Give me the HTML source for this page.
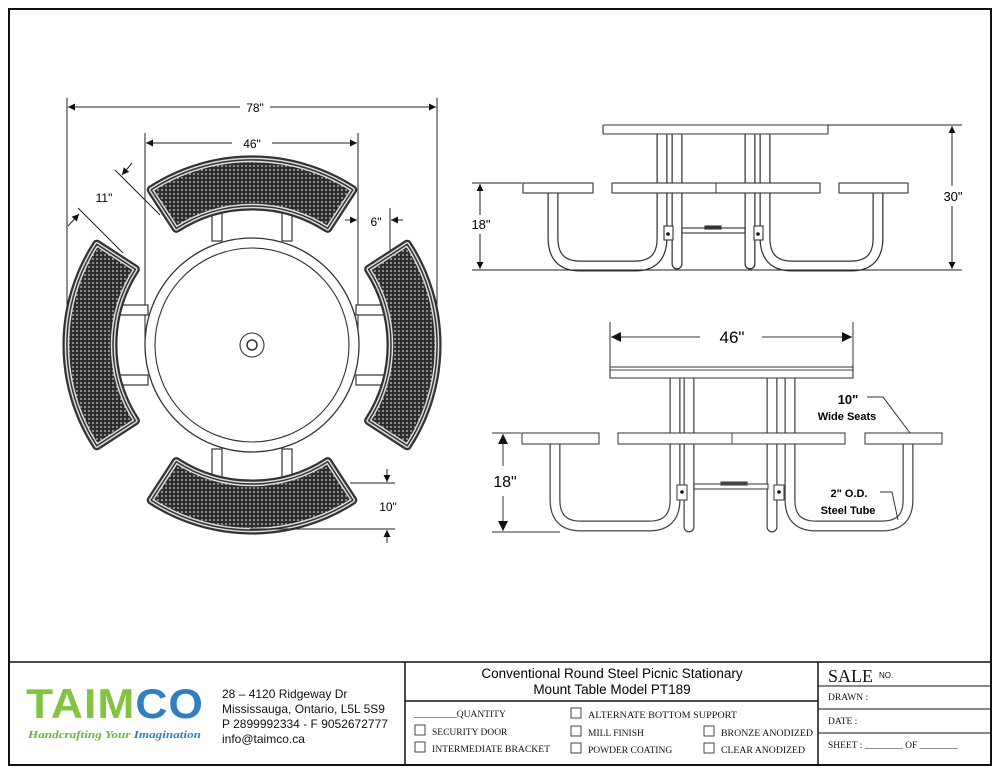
<!DOCTYPE html>
<html><head><meta charset="utf-8"><style>
html,body{margin:0;padding:0;background:#fff;}
svg{display:block;}
.s{font-family:"Liberation Sans",sans-serif;}
.m{font-family:"Liberation Serif",serif;font-size:9.5px;}
</style></head><body>
<svg width="1000" height="773" viewBox="0 0 1000 773" xmlns="http://www.w3.org/2000/svg">
<defs>
<pattern id="mesh" width="4" height="4" patternUnits="userSpaceOnUse">
<rect width="4" height="4" fill="#2e2e2e"/>
<circle cx="2" cy="2" r="1.0" fill="#aaa"/>
</pattern>
<marker id="ar" viewBox="0 0 10 10" refX="10" refY="5" markerWidth="9" markerHeight="7" orient="auto-start-reverse" markerUnits="userSpaceOnUse"><path d="M0,0 L10,5 L0,10 Z" fill="#111"/></marker>
<marker id="arB" viewBox="0 0 10 10" refX="10" refY="5" markerWidth="14" markerHeight="10" orient="auto-start-reverse" markerUnits="userSpaceOnUse"><path d="M0,0 L10,5 L0,10 Z" fill="#111"/></marker>
<g id="seat">
<path d="M151.2,189.8 A185,185 0 0 1 352.8,189.8 L327.7,228.4 A139,139 0 0 0 176.3,228.4 Z" fill="none" stroke="#333" stroke-width="9" stroke-linejoin="round"/>
<path d="M151.2,189.8 A185,185 0 0 1 352.8,189.8 L327.7,228.4 A139,139 0 0 0 176.3,228.4 Z" fill="url(#mesh)" stroke="#ddd" stroke-width="4.5" stroke-linejoin="round"/>
<path d="M151.2,189.8 A185,185 0 0 1 352.8,189.8 L327.7,228.4 A139,139 0 0 0 176.3,228.4 Z" fill="none" stroke="#333" stroke-width="1.5" stroke-linejoin="round"/>
</g>
<g id="sup">
<rect x="212" y="205" width="10" height="36" fill="#fff" stroke="#333" stroke-width="1.2"/>
<rect x="282" y="205" width="10" height="36" fill="#fff" stroke="#333" stroke-width="1.2"/>
</g>
</defs>

<rect x="9" y="9" width="982" height="756" fill="none" stroke="#111" stroke-width="2"/>

<g stroke="#222" stroke-width="1" fill="none">
<line x1="67" y1="98" x2="67" y2="345"/>
<line x1="437" y1="98" x2="437" y2="345"/>
<line x1="145" y1="133" x2="145" y2="340"/>
<line x1="358" y1="133" x2="358" y2="340"/>
<line x1="68" y1="107" x2="240" y2="107" marker-start="url(#ar)"/>
<line x1="270" y1="107" x2="436" y2="107" marker-end="url(#ar)"/>
<line x1="146" y1="143" x2="232" y2="143" marker-start="url(#ar)"/>
<line x1="272" y1="143" x2="357" y2="143" marker-end="url(#ar)"/>
</g>
<text x="255" y="112" class="s" font-size="12" text-anchor="middle">78"</text>
<text x="252" y="148" class="s" font-size="12" text-anchor="middle">46"</text>

<use href="#sup"/>
<use href="#sup" transform="rotate(90 252 345)"/>
<use href="#sup" transform="rotate(180 252 345)"/>
<use href="#sup" transform="rotate(270 252 345)"/>
<use href="#seat"/>
<use href="#seat" transform="rotate(90 252 345)"/>
<use href="#seat" transform="rotate(180 252 345)"/>
<use href="#seat" transform="rotate(270 252 345)"/>
<circle cx="252" cy="345" r="107" fill="#fff" stroke="#333" stroke-width="1.3"/>
<circle cx="252" cy="345" r="97" fill="none" stroke="#333" stroke-width="1.1"/>
<circle cx="252" cy="345" r="12" fill="none" stroke="#333" stroke-width="1.1"/>
<circle cx="252" cy="345" r="5" fill="none" stroke="#333" stroke-width="1.5"/>

<g stroke="#222" stroke-width="1" fill="none">
<line x1="115" y1="170" x2="160" y2="215"/>
<line x1="78" y1="208" x2="123" y2="253"/>
<line x1="132" y1="163" x2="122" y2="175" marker-end="url(#ar)"/>
<line x1="68" y1="226" x2="79" y2="214" marker-end="url(#ar)"/>
</g>
<text x="104" y="202" class="s" font-size="12" text-anchor="middle">11"</text>
<g stroke="#222" stroke-width="1" fill="none">
<line x1="390" y1="208" x2="390" y2="250"/>
<line x1="345" y1="220" x2="357" y2="220" marker-end="url(#ar)"/>
<line x1="403" y1="220" x2="391" y2="220" marker-end="url(#ar)"/>
</g>
<text x="376" y="226" class="s" font-size="12" text-anchor="middle">6"</text>
<g stroke="#222" stroke-width="1" fill="none">
<line x1="350" y1="483" x2="395" y2="483"/>
<line x1="250" y1="529" x2="395" y2="529"/>
<line x1="387" y1="469" x2="387" y2="482" marker-end="url(#ar)"/>
<line x1="387" y1="543" x2="387" y2="530" marker-end="url(#ar)"/>
</g>
<text x="388" y="511" class="s" font-size="12" text-anchor="middle">10"</text>

<g fill="none" stroke-linecap="round" stroke-linejoin="round">
<g stroke="#333" stroke-width="11">
<path d="M553,193 L553,238 Q553,266 580,266 L635,266 Q662,266 662,238 L662,134"/>
<path d="M765,134 L765,238 Q765,266 792,266 L851,266 Q878,266 878,238 L878,193"/>
<path d="M677,134 L677,264"/>
<path d="M750,134 L750,264"/>
</g>
<g stroke="#fff" stroke-width="8.5">
<path d="M553,193 L553,238 Q553,266 580,266 L635,266 Q662,266 662,238 L662,134"/>
<path d="M765,134 L765,238 Q765,266 792,266 L851,266 Q878,266 878,238 L878,193"/>
<path d="M677,134 L677,264"/>
<path d="M750,134 L750,264"/>
</g>
</g>
<g stroke="#333" stroke-width="1.1" fill="#fff">
<rect x="682" y="228" width="63" height="5"/>
<rect x="705" y="226" width="16" height="3" fill="#333"/>
<rect x="664" y="226" width="9" height="14"/>
<rect x="754" y="226" width="9" height="14"/>
<rect x="603" y="125" width="225" height="9" rx="1"/>
<rect x="523" y="183" width="70" height="10"/>
<rect x="612" y="183" width="208" height="10"/>
<rect x="839" y="183" width="69" height="10"/>
</g>
<line x1="716" y1="183" x2="716" y2="193" stroke="#333"/>
<circle cx="668" cy="234" r="1.8" fill="#111"/><circle cx="758" cy="234" r="1.8" fill="#111"/>
<g stroke="#222" stroke-width="1" fill="none">
<line x1="828" y1="125" x2="962" y2="125"/>
<line x1="472" y1="270" x2="962" y2="270"/>
<line x1="472" y1="183" x2="522" y2="183"/>
<line x1="952" y1="126" x2="952" y2="186" marker-start="url(#ar)"/>
<line x1="952" y1="206" x2="952" y2="269" marker-end="url(#ar)"/>
<line x1="480" y1="184" x2="480" y2="215" marker-start="url(#ar)"/>
<line x1="480" y1="234" x2="480" y2="269" marker-end="url(#ar)"/>
</g>
<text x="953" y="201" class="s" font-size="13" text-anchor="middle">30"</text>
<text x="481" y="229" class="s" font-size="13" text-anchor="middle">18"</text>

<g fill="none" stroke-linecap="round" stroke-linejoin="round">
<g stroke="#444" stroke-width="11">
<path d="M555,444 L555,500 Q555,526 581,526 L649,526 Q675,526 675,500 L675,378"/>
<path d="M790,378 L790,500 Q790,526 816,526 L882,526 Q908,526 908,500 L908,444"/>
<path d="M689,378 L689,527"/>
<path d="M772,378 L772,527"/>
</g>
<g stroke="#fff" stroke-width="8.5">
<path d="M555,444 L555,500 Q555,526 581,526 L649,526 Q675,526 675,500 L675,378"/>
<path d="M790,378 L790,500 Q790,526 816,526 L882,526 Q908,526 908,500 L908,444"/>
<path d="M689,378 L689,527"/>
<path d="M772,378 L772,527"/>
</g>
</g>
<g stroke="#444" stroke-width="1.1" fill="#fff">
<rect x="694" y="484" width="74" height="5"/>
<rect x="721" y="482" width="26" height="3" fill="#444"/>
<rect x="677" y="485" width="10" height="15"/>
<rect x="774" y="485" width="10" height="15"/>
<rect x="610" y="367" width="243" height="11"/>
<rect x="522" y="433" width="77" height="11"/>
<rect x="618" y="433" width="227" height="11"/>
<rect x="865" y="433" width="77" height="11"/>
</g>
<line x1="610" y1="370" x2="853" y2="370" stroke="#444"/>
<line x1="732" y1="433" x2="732" y2="444" stroke="#444"/>
<circle cx="682" cy="492" r="1.8" fill="#111"/><circle cx="779" cy="492" r="1.8" fill="#111"/>
<g stroke="#333" stroke-width="1" fill="none">
<line x1="610" y1="322" x2="610" y2="378"/>
<line x1="853" y1="322" x2="853" y2="378"/>
<line x1="611" y1="337" x2="700" y2="337" marker-start="url(#arB)"/>
<line x1="762" y1="337" x2="852" y2="337" marker-end="url(#arB)"/>
<line x1="492" y1="433" x2="521" y2="433"/>
<line x1="492" y1="532" x2="560" y2="532"/>
<line x1="503" y1="434" x2="503" y2="466" marker-start="url(#arB)"/>
<line x1="503" y1="496" x2="503" y2="531" marker-end="url(#arB)"/>
<polyline points="867,397 883,397 910,433"/>
<polyline points="880,492 892,492 898,520"/>
</g>
<text x="732" y="343" class="s" font-size="17" text-anchor="middle">46"</text>
<text x="505" y="487" class="s" font-size="16" text-anchor="middle">18"</text>
<text x="848" y="404" class="s" font-size="13" font-weight="bold" text-anchor="middle">10"</text>
<text x="847" y="420" class="s" font-size="11" font-weight="bold" text-anchor="middle">Wide Seats</text>
<text x="849" y="497" class="s" font-size="11" font-weight="bold" text-anchor="middle">2" O.D.</text>
<text x="848" y="514" class="s" font-size="11" font-weight="bold" text-anchor="middle">Steel Tube</text>

<g stroke="#111" stroke-width="1.5" fill="none">
<line x1="9" y1="662" x2="991" y2="662"/>
<line x1="405" y1="662" x2="405" y2="765"/>
<line x1="818" y1="662" x2="818" y2="765"/>
<line x1="405" y1="701" x2="818" y2="701"/>
<line x1="818" y1="686" x2="991" y2="686" stroke-width="1"/>
<line x1="818" y1="709" x2="991" y2="709" stroke-width="1"/>
<line x1="818" y1="733" x2="991" y2="733" stroke-width="1"/>
</g>
<text x="26" y="718" font-family="Liberation Sans,sans-serif" font-size="42" font-weight="bold" letter-spacing="1" textLength="178" lengthAdjust="spacingAndGlyphs"><tspan fill="#82c341">TAIM</tspan><tspan fill="#2f7fc1">CO</tspan></text>
<text x="28" y="738" font-family="Liberation Serif,serif" font-size="11" font-style="italic" font-weight="bold" textLength="173" lengthAdjust="spacingAndGlyphs"><tspan fill="#6db33f">Handcrafting Your </tspan><tspan fill="#2f7fc1">Imagination</tspan></text>
<g class="s" font-size="12" fill="#111">
<text x="222" y="698">28 – 4120 Ridgeway Dr</text>
<text x="222" y="713">Mississauga, Ontario, L5L 5S9</text>
<text x="222" y="728">P 2899992334 - F 9052672777</text>
<text x="222" y="743">info@taimco.ca</text>
</g>
<text x="612" y="678" class="s" font-size="13.5" text-anchor="middle">Conventional Round Steel Picnic Stationary</text>
<text x="612" y="694" class="s" font-size="13.5" text-anchor="middle">Mount Table Model PT189</text>
<g class="m" fill="#111">
<text x="414" y="717">_________QUANTITY</text>
<text x="432" y="735">SECURITY DOOR</text>
<text x="432" y="752" textLength="118" lengthAdjust="spacingAndGlyphs">INTERMEDIATE BRACKET</text>
<text x="588" y="718" textLength="149" lengthAdjust="spacingAndGlyphs">ALTERNATE BOTTOM SUPPORT</text>
<text x="588" y="736">MILL FINISH</text>
<text x="588" y="753">POWDER COATING</text>
<text x="721" y="736" textLength="92" lengthAdjust="spacingAndGlyphs">BRONZE ANODIZED</text>
<text x="721" y="753" textLength="84" lengthAdjust="spacingAndGlyphs">CLEAR ANODIZED</text>
<text x="828" y="700">DRAWN :</text>
<text x="828" y="724">DATE :</text>
<text x="828" y="748">SHEET :   ________  OF  ________</text>
</g>
<g fill="none" stroke="#333" stroke-width="0.9">
<rect x="415" y="725" width="10" height="10"/>
<rect x="415" y="742" width="10" height="10"/>
<rect x="571" y="708" width="10" height="10"/>
<rect x="571" y="726" width="10" height="10"/>
<rect x="571" y="743" width="10" height="10"/>
<rect x="704" y="726" width="10" height="10"/>
<rect x="704" y="743" width="10" height="10"/>
</g>
<text x="828" y="682" font-family="Liberation Serif,serif" font-size="18" fill="#111">SALE</text>
<text x="879" y="678" class="s" font-size="8" fill="#111">NO.</text>
</svg>
</body></html>
